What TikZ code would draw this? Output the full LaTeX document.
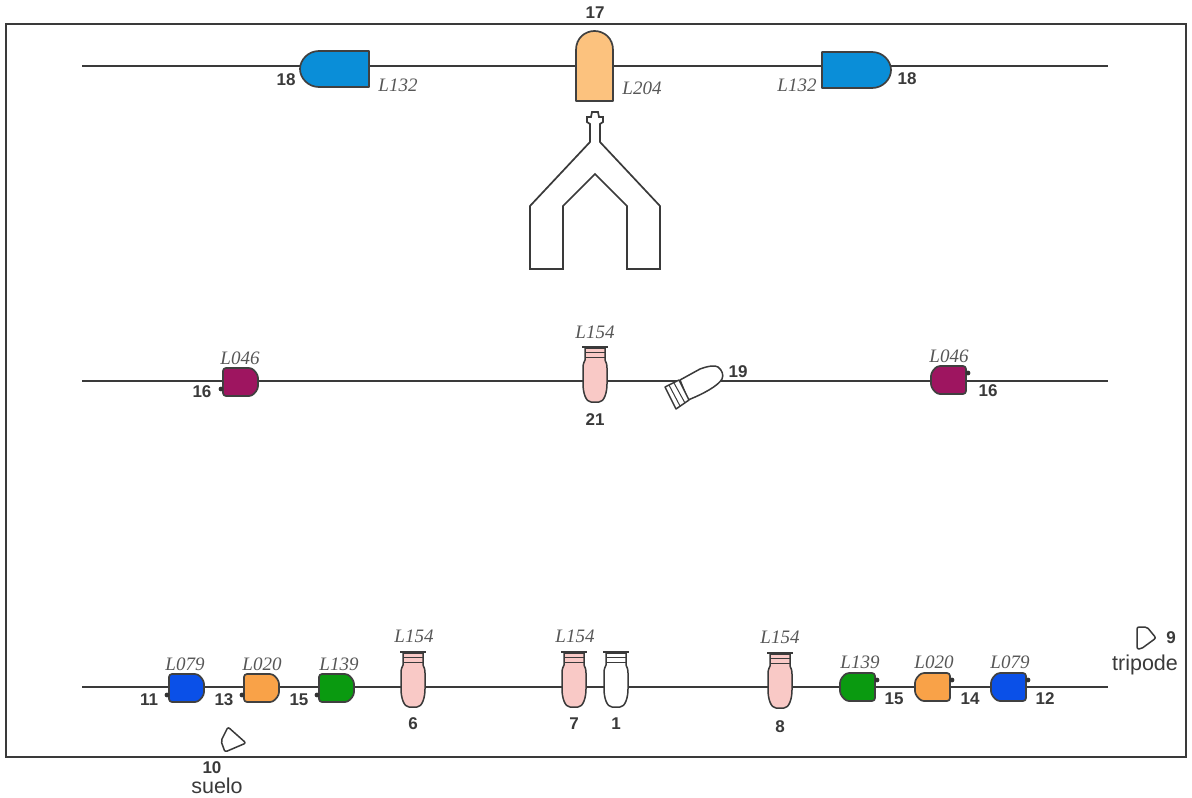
\documentclass[tikz,border=0pt]{standalone}
\usepackage{fontspec}
\setmainfont{Liberation Sans}
\newfontfamily\lampfont{Liberation Serif}
\definecolor{ink}{HTML}{3A3A3A}
\definecolor{cblue}{HTML}{0A8ED8}
\definecolor{csand}{HTML}{FCC27E}
\definecolor{cmag}{HTML}{9E1560}
\definecolor{croyal}{HTML}{0A50E8}
\definecolor{corange}{HTML}{F9A248}
\definecolor{cgreen}{HTML}{0A9A10}
\definecolor{cpink}{HTML}{F9C9C6}
\tikzset{
  x=1pt,y=-1pt,
  rail/.style={draw=ink,line width=2pt},
  fixt/.style={draw=ink,line width=1.5pt,line join=round},
  darkfixt/.style={draw=black!75,line width=1.7pt,line join=round},
  num/.style={font=\fontsize{17}{19}\selectfont\bfseries,text=ink,inner sep=0pt},
  word/.style={font=\fontsize{21.5}{24}\selectfont,text=ink,inner sep=0pt},
  lamp/.style={font=\lampfont\itshape\fontsize{19}{21}\selectfont,text=ink!85,inner sep=0pt},
  pics/wide/.style={code={
    \draw[darkfixt,fill=#1] (-34,-18) -- (16,-18) .. controls (27,-18) and (35,-9) .. (35,0) .. controls (35,9) and (27,18) .. (16,18) -- (-34,18) -- cycle;}},
  pics/small/.style={code={
    \draw[darkfixt,fill=#1,rounded corners=3pt] (0,-14) -- (12,-14) -- (18,-7) -- (18,7) -- (12,14) -- (-17,14) -- (-17,-14) -- (0,-14);
    \fill[black!80] (-19,7) circle (2.4);}},
  pics/smallflip/.style={code={
    \draw[darkfixt,fill=#1,rounded corners=3pt] (0,-14) -- (-12,-14) -- (-18,-7) -- (-18,7) -- (-12,14) -- (17,14) -- (17,-14) -- (0,-14);
    \fill[black!80] (19,-7) circle (2.4);}},
  pics/tulip/.style={code={
    \draw[fixt,fill=#1] (-10,2) -- (10,2) -- (10,14) .. controls (11,16) and (12,18) .. (12,22) -- (12,38) .. controls (12,47) and (9,56) .. (4,56) -- (-4,56) .. controls (-9,56) and (-12,47) .. (-12,38) -- (-12,22) .. controls (-12,18) and (-11,16) .. (-10,14) -- cycle;
    \draw[fixt,line width=2pt] (-13,1) -- (13,1);
    \draw[fixt,line width=1pt] (-10,6) -- (10,6) (-10,11) -- (10,11);}},
}
\begin{document}
\begin{tikzpicture}
\useasboundingbox (0,0) rectangle (1192,798);
\fill[white] (0,0) rectangle (1192,798);
\draw[draw=ink,line width=2pt] (6,24) rectangle (1186,757);

% rails
\coordinate (r1a) at (82,66);  \coordinate (r1b) at (1108,66);
\coordinate (r2a) at (82,381); \coordinate (r2b) at (1108,381);
\coordinate (r3a) at (82,687); \coordinate (r3b) at (1108,687);
\draw[rail] (r1a) -- (r1b);
\draw[rail] (r2a) -- (r2b);
\draw[rail] (r3a) -- (r3b);

% top row
\pic[xscale=-1] at (335,69) {wide=cblue};
\pic at (856,70) {wide=cblue};
\draw[darkfixt,fill=csand] (576,101) -- (576,50) .. controls (576,38) and (585,31) .. (594.5,31) .. controls (604,31) and (613,38) .. (613,50) -- (613,101) -- cycle;
\node[num] (n17) at (595,13) {17};
\node[num] (n18a) at (286,80) {18};
\node[num] (n18b) at (907,79) {18};
\node[lamp] (l132a) at (398,85) {L132};
\node[lamp] (l204) at (642,88) {L204};
\node[lamp] (l132b) at (797,85) {L132};

% church
\draw[draw=ink,line width=1.7pt,fill=white,line join=miter]
 (530,269) -- (530,206) -- (590,142) -- (590,124) -- (587,122) -- (587,117) -- (591,117) -- (592,112) -- (598,112) -- (599,117) -- (603,117) -- (603,122) -- (600,124) -- (600,142) -- (660,206) -- (660,269) -- (627,269) -- (627,206) -- (595,174) -- (563,206) -- (563,269) -- cycle;

% middle row
\pic at (240,382) {small=cmag};
\pic at (949,380) {smallflip=cmag};
\pic at (595,346) {tulip=cpink};
\node[lamp] (l046a) at (240,358) {L046};
\node[lamp] (l046b) at (949,356) {L046};
\node[lamp] (l154m) at (595,332) {L154};
\node[num] (n16a) at (202,392) {16};
\node[num] (n16b) at (988,391) {16};
\node[num] (n21) at (595,420) {21};
\node[num] (n19) at (738,372) {19};
% fixture 19
\draw[fixt,fill=white] (680,380) -- (700,369) .. controls (708,366) and (715,365) .. (718,367) .. controls (722,370) and (724,375) .. (722,379) .. controls (718,386) and (703,394) .. (688,400) -- cycle;
\draw[fixt,fill=white] (665,387) -- (679,380) -- (689,400) -- (676,409) -- cycle;
\draw[fixt,line width=1pt] (669,385) -- (680,406) (674,383) -- (685,403);

% bottom row
\pic at (186,688) {small=croyal};
\pic at (261,688) {small=corange};
\pic at (336,688) {small=cgreen};
\pic at (858,687) {smallflip=cgreen};
\pic at (933,687) {smallflip=corange};
\pic at (1009,687) {smallflip=croyal};
\pic at (413,651) {tulip=cpink};
\pic at (574,651) {tulip=cpink};
\pic at (616,651) {tulip=white};
\pic at (780,652) {tulip=cpink};

\node[lamp] (l079a) at (185,664) {L079};
\node[lamp] (l020a) at (262,664) {L020};
\node[lamp] (l139a) at (339,664) {L139};
\node[lamp] (l154a) at (414,636) {L154};
\node[lamp] (l154b) at (575,636) {L154};
\node[lamp] (l154c) at (780,637) {L154};
\node[lamp] (l139b) at (860,662) {L139};
\node[lamp] (l020b) at (934,662) {L020};
\node[lamp] (l079b) at (1010,662) {L079};

\node[num] (n11) at (149,700) {11};
\node[num] (n13) at (224,700) {13};
\node[num] (n15a) at (299,700) {15};
\node[num] (n6) at (413,724) {6};
\node[num] (n7) at (574,724) {7};
\node[num] (n1) at (616,724) {1};
\node[num] (n8) at (780,727) {8};
\node[num] (n15b) at (894,699) {15};
\node[num] (n14) at (970,699) {14};
\node[num] (n12) at (1045,699) {12};
\node[num] (n10) at (212,768) {10};
\node[word] (suelo) at (217,786) {suelo};
\node[num] (n9) at (1171,638) {9};
\node[word] (tripode) at (1145,665) {tripode};

% small spots
\draw[fixt,fill=white,rounded corners=2pt] (228,727) -- (246,743) -- (225,752) -- (221,741) -- cycle;
\draw[fixt,fill=white,rounded corners=2pt] (1137,627) -- (1147,627) -- (1156,638) -- (1141,649) -- (1137,649) -- cycle;
\end{tikzpicture}
\end{document}
